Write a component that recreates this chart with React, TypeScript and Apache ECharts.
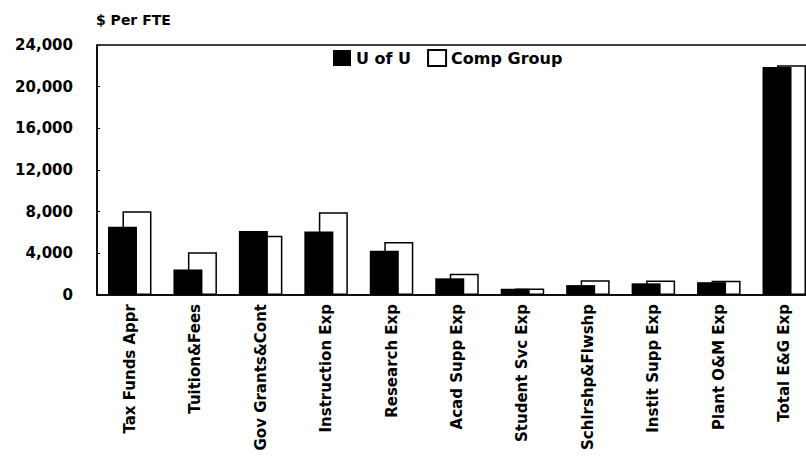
import React, { useEffect, useRef } from "react";
import * as echarts from "echarts";

const categories = [
  "Tax Funds Appr",
  "Tuition&Fees",
  "Gov Grants&Cont",
  "Instruction Exp",
  "Research Exp",
  "Acad Supp Exp",
  "Student Svc Exp",
  "Schlrshp&Flwshp",
  "Instit Supp Exp",
  "Plant O&M Exp",
  "Total E&G Exp",
];
const uOfU = [6550, 2450, 6150, 6100, 4250, 1600, 600, 950, 1120, 1230, 21900];
const compGroup = [8050, 4100, 5700, 7950, 5100, 2050, 620, 1420, 1400, 1380, 22050];
const yTicks = [0, 4000, 8000, 12000, 16000, 20000, 24000];
const yTitle = "$ Per FTE";
const seriesNames = ["U of U", "Comp Group"];

const FONT = "DejaVu Sans";

export default function App() {
  const ref = useRef<HTMLDivElement>(null);
  useEffect(() => {
    if (!ref.current) return;
    const chart = echarts.init(ref.current, null, { renderer: "svg" });
    chart.setOption({
      animation: false,
      backgroundColor: "#fff",
      grid: {
        left: 97,
        top: 45,
        height: 250,
        width: 720,
        show: true,
        borderColor: "#000",
        borderWidth: 1.5,
        containLabel: false,
      },
      graphic: [
        {
          type: "text",
          left: 96,
          top: 13,
          style: {
            text: yTitle,
            fill: "#000",
            font: `bold 14px "${FONT}"`,
          },
        },
      ],
      legend: {
        left: 333,
        top: 49,
        padding: 0,
        itemWidth: 18,
        itemHeight: 16,
        itemGap: 16,
        icon: "rect",
        textStyle: {
          color: "#000",
          fontFamily: FONT,
          fontWeight: "bold",
          fontSize: 16,
        },
        data: seriesNames,
      },
      xAxis: {
        type: "category",
        data: categories,
        boundaryGap: true,
        axisLine: { lineStyle: { color: "#000", width: 1.5 } },
        axisTick: { show: false },
        axisLabel: {
          rotate: 90,
          interval: 0,
          margin: 9,
          color: "#000",
          fontFamily: FONT,
          fontWeight: "bold",
          fontSize: 15,
        },
      },
      yAxis: {
        type: "value",
        min: yTicks[0],
        max: yTicks[yTicks.length - 1],
        interval: 4000,
        splitLine: { show: false },
        axisLine: { show: true, lineStyle: { color: "#000", width: 1.5 } },
        axisTick: { show: true, inside: true, length: 3, lineStyle: { color: "#000" } },
        axisLabel: {
          margin: 24,
          color: "#000",
          fontFamily: FONT,
          fontWeight: "bold",
          fontSize: 15,
          formatter: (v: number) => v.toLocaleString("en-US"),
        },
      },
      series: [
        {
          name: seriesNames[0],
          type: "bar",
          data: uOfU,
          barWidth: 29,
          barGap: "-50%",
          z: 3,
          itemStyle: { color: "#000" },
        },
        {
          name: seriesNames[1],
          type: "bar",
          data: compGroup,
          barWidth: 29,
          z: 2,
          itemStyle: { color: "#fff", borderColor: "#000", borderWidth: 1.5 },
        },
      ],
    });
    return () => chart.dispose();
  }, []);
  return (
    <div
      ref={ref}
      style={{ position: "fixed", left: 0, top: 0, width: 832, height: 469, background: "#fff" }}
    />
  );
}
